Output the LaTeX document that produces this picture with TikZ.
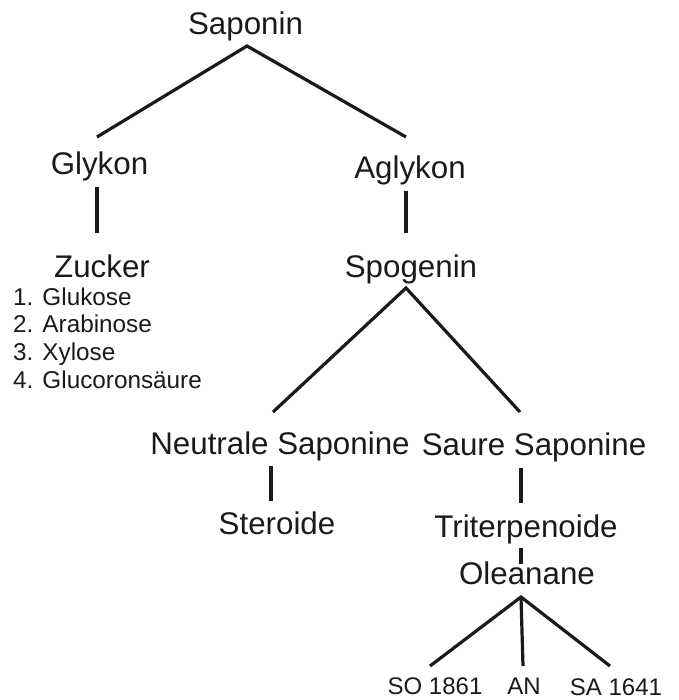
\documentclass[tikz,border=0pt]{standalone}
\usepackage{fontspec}
\setmainfont{Liberation Sans}
\definecolor{ink}{HTML}{1A1A1A}
\begin{document}
\begin{tikzpicture}[x=1pt,y=-1pt,
  lbl/.style={anchor=base, inner sep=0pt, text=ink, font=\fontsize{31.3}{36}\selectfont},
  sml/.style={anchor=base, inner sep=0pt, text=ink, font=\fontsize{24}{28}\selectfont},
  lst/.style={sml, anchor=base west, font=\fontsize{24.3}{28}\selectfont},
  conn/.style={draw=ink, line width=3.2pt}]
\useasboundingbox (0,0) rectangle (678,700);
% labels
\node[lbl] (sap) at (245.5,35) {Saponin};
\node[lbl] (gly) at (99.5,175) {Glykon};
\node[lbl] (agl) at (410,179) {Aglykon};
\node[lbl] (zuc) at (102,277) {Zucker};
\node[lbl] (spo) at (411,277) {Spogenin};
\node[lst] (z1) at (13,305) {1. Glukose};
\node[lst] (z2) at (13,332) {2. Arabinose};
\node[lst] (z3) at (13,360) {3. Xylose};
\node[lst] (z4) at (13,388) {4. Glucoronsäure};
\node[lbl] (neu) at (280,454) {Neutrale Saponine};
\node[lbl] (sau) at (534,455) {Saure Saponine};
\node[lbl] (ste) at (277,534) {Steroide};
\node[lbl] (tri) at (526,537) {Triterpenoide};
\node[lbl] (ole) at (527,584) {Oleanane};
\node[sml] (so) at (435,694) {SO 1861};
\node[sml] (an) at (524,694) {AN};
\node[sml] (sa) at (616,695) {SA 1641};
% joint points
\coordinate (j1) at (247,46);
\coordinate (gT) at (97,137);
\coordinate (aT) at (406,137);
\coordinate (gB1) at (97,187);
\coordinate (gB2) at (97,233);
\coordinate (aB1) at (406,191);
\coordinate (aB2) at (406,233);
\coordinate (j2) at (406,288);
\coordinate (nT) at (273,412);
\coordinate (sT) at (520,412);
\coordinate (nB1) at (271,466);
\coordinate (nB2) at (271,501);
\coordinate (sB1) at (521,468);
\coordinate (sB2) at (521,503);
\coordinate (tB1) at (521,548);
\coordinate (tB2) at (521,564);
\coordinate (j3) at (521,597);
\coordinate (l1) at (430,666);
\coordinate (l2) at (523,666);
\coordinate (l3) at (610,666);
% connectors
\draw[conn] (gT) -- (j1) -- (aT);
\draw[conn] (gB1) -- (gB2);
\draw[conn] (aB1) -- (aB2);
\draw[conn] (nT) -- (j2) -- (sT);
\draw[conn] (nB1) -- (nB2);
\draw[conn] (sB1) -- (sB2);
\draw[conn] (tB1) -- (tB2);
\draw[conn] (l1) -- (j3) -- (l3);
\draw[conn] (j3) -- (l2);
\end{tikzpicture}
\end{document}
